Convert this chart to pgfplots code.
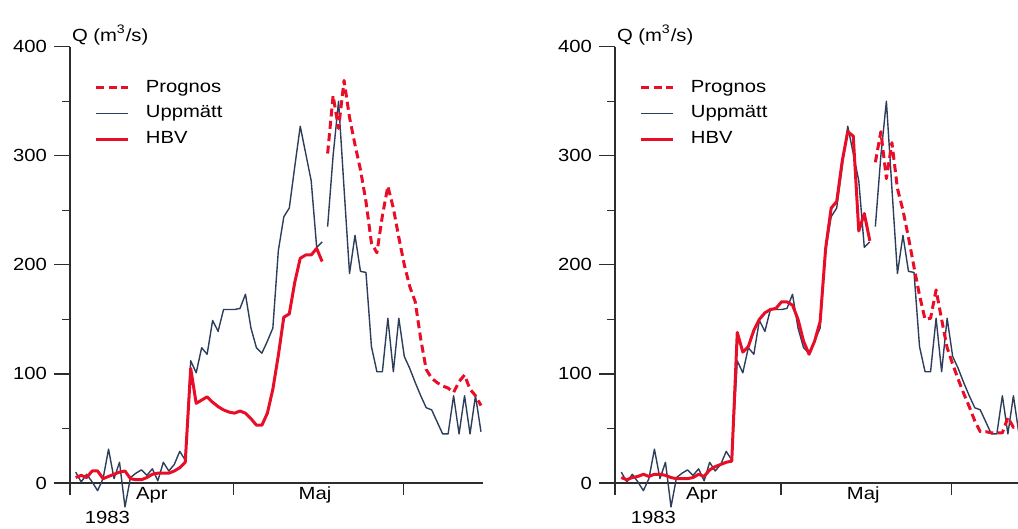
\documentclass[border=0pt]{standalone}
\usepackage{pgfplots}
\usepackage{pgfplotstable}
\pgfplotsset{compat=1.18}
\usepackage{fontspec}
\setmainfont{Liberation Sans}[FakeStretch=1.15]
\newcommand\fs{\fontsize{8.8pt}{10pt}\selectfont}
\DeclareRobustCommand\uppm{Uppm\symbol{"E4}tt}
\definecolor{obs}{RGB}{45,62,92}
\definecolor{hbv}{RGB}{232,14,40}
\definecolor{axc}{RGB}{45,45,45}

% Uppmatt (measured), day index j, before the gap
\pgfplotstableread{
j q
0 10
1 1
2 8
3 1
4 -7
5 4
6 31
7 4
8 19
9 -22
10 5
11 9
12 12
13 7
14 13
15 2
16 19
17 11
18 17
19 29
20 21
21 112
22 101
23 124
24 118
25 149
26 139
27 159
28 159
29 159
30 160
31 173
32 142
33 124
34 119
35 130
36 142
37 213
38 244
39 252
40 290
41 327
42 302
43 277
44 216
45 221
}\obsA
% Uppmatt after the gap
\pgfplotstableread{
j q
46 235
47 300
48 350
49 270
50 192
51 227
52 194
53 193
54 125
55 102
56 102
57 151
58 102
59 151
60 116
61 105
62 92
63 80
64 69
65 67
66 56
67 45
68 45
69 80
70 45
71 80
72 45
73 80
74 47
}\obsB
% HBV, left panel
\pgfplotstableread{
j q
0 5
1 7
2 5
3 11
4 11
5 4
6 6
7 8
8 10
9 11
10 4
11 3
12 3
13 5
14 8
15 9
16 9
17 9
18 11
19 14
20 19
21 105
22 73
23 76
24 79
25 74
26 70
27 67
28 65
29 64
30 66
31 64
32 59
33 53
34 53
35 64
36 86
37 117
38 152
39 155
40 184
41 206
42 209
43 209
44 215
45 203
}\hbvA
% Prognos, left panel
\pgfplotstableread{
j q
46 302
47 355
48 325
49 369
50 335
51 310
52 287
53 258
54 220
55 211
56 245
57 272
58 252
59 225
60 200
61 180
62 166
63 132
64 104
65 96
66 92
67 89
68 87
69 83
70 93
71 99
72 86
73 80
74 71
}\progA
% HBV, right panel
\pgfplotstableread{
j q
0 5
1 3
2 5
3 6
4 8
5 6
6 8
7 8
8 7
9 5
10 4
11 4
12 4
13 5
14 8
15 6
16 12
17 15
18 17
19 19
20 20
21 138
22 120
23 125
24 140
25 150
26 156
27 159
28 160
29 166
30 166
31 163
32 150
33 130
34 118
35 130
36 148
37 215
38 252
39 258
40 295
41 322
42 318
43 231
44 247
45 222
}\hbvB
% Prognos, right panel
\pgfplotstableread{
j q
46 294
47 322
48 279
49 312
50 270
51 250
52 225
53 198
54 172
55 150
56 151
57 177
58 150
59 124
60 109
61 95
62 82
63 70
64 57
65 47
66 47
67 46
68 46
69 46
70 60
71 51
72 54
}\progB

\pgfplotsset{
  panel/.style={
    scale only axis,
    height=218.2pt,
    anchor=south west,
    axis x line*=bottom,
    axis y line*=left,
    axis line style={axc, line width=0.65pt, -},
    ymin=0, ymax=400,
    ytick={0,100,200,300,400},
    minor ytick={50,150,250,350},
    xtick=\empty,
    tick align=outside,
    major tick length=8pt,
    minor tick length=4pt,
    every tick/.style={axc, line width=0.65pt},
    yticklabel style={font=\fs},
    /pgf/number format/assume math mode=true,
    clip=false,
    legend cell align=left,
    legend style={draw=none, fill=none, inner sep=0pt, outer sep=0pt,
      anchor=north west,
      row sep=4.6pt, column sep=8pt,
      nodes={inner sep=0pt, font=\fs, text height=6.4pt, text depth=1.9pt}},
    legend image code/.code={\draw[##1] (0pt,0pt) -- (16pt,0pt);},
  },
  obsline/.style={obs, line width=0.7pt, line join=round},
  hbvline/.style={hbv, line width=1.5pt, line join=round},
  progline/.style={hbv, line width=1.5pt, line join=round, dash pattern=on 4pt off 2.2pt},
}

\begin{document}
\begin{tikzpicture}
\path[use as bounding box] (0,0) rectangle (509pt,264.5pt);

% ---------- left panel ----------
\begin{axis}[panel, at={(35pt,23pt)}, width=206.5pt, xmin=-1.04, xmax=74.37,
  legend style={at={(0.0605,0.925)}}]
\addlegendimage{progline}\addlegendentry{Prognos}
\addlegendimage{obsline}\addlegendentry{\uppm}
\addlegendimage{hbvline}\addlegendentry{HBV}
\addplot[obsline, forget plot] table[x=j,y=q] {\obsA};
\addplot[obsline, forget plot] table[x=j,y=q] {\obsB};
\addplot[hbvline, forget plot] table[x=j,y=q] {\hbvA};
\addplot[progline, forget plot] table[x=j,y=q] {\progA};
\draw[axc, line width=0.65pt] (axis cs:-1.04,0) -- ++(0pt,-6pt);
\draw[axc, line width=0.65pt] (axis cs:28.77,0) -- ++(0pt,-6pt);
\draw[axc, line width=0.65pt] (axis cs:59.81,0) -- ++(0pt,-6pt);
\node[font=\fs, anchor=base west, inner sep=0pt, yshift=2.5pt, xshift=0.8pt] at (rel axis cs:0,1) {Q (m\textsuperscript{3}/s)};
\node[font=\fs, anchor=base, inner sep=0pt, yshift=-8.5pt] at (axis cs:13.9,0) {Apr};
\node[font=\fs, anchor=base, inner sep=0pt, yshift=-8.5pt] at (axis cs:43.7,0) {Maj};
\node[font=\fs, anchor=base, inner sep=0pt, yshift=-20.5pt] at (axis cs:5.8,0) {1983};
\end{axis}

% ---------- right panel ----------
\begin{axis}[panel, at={(307.5pt,23pt)}, width=201.5pt, xmin=-1.14, xmax=71.83,
  legend style={at={(0.062,0.925)}}]
\addlegendimage{progline}\addlegendentry{Prognos}
\addlegendimage{obsline}\addlegendentry{\uppm}
\addlegendimage{hbvline}\addlegendentry{HBV}
\addplot[obsline, forget plot] table[x=j,y=q] {\obsA};
\addplot[obsline, forget plot] table[x=j,y=q] {\obsB};
\addplot[hbvline, forget plot] table[x=j,y=q] {\hbvB};
\addplot[progline, forget plot] table[x=j,y=q] {\progB};
\draw[axc, line width=0.65pt] (axis cs:-1.14,0) -- ++(0pt,-6pt);
\draw[axc, line width=0.65pt] (axis cs:28.9,0) -- ++(0pt,-6pt);
\draw[axc, line width=0.65pt] (axis cs:59.8,0) -- ++(0pt,-6pt);
\node[font=\fs, anchor=base west, inner sep=0pt, yshift=2.5pt, xshift=0.8pt] at (rel axis cs:0,1) {Q (m\textsuperscript{3}/s)};
\node[font=\fs, anchor=base, inner sep=0pt, yshift=-8.5pt] at (axis cs:14.6,0) {Apr};
\node[font=\fs, anchor=base, inner sep=0pt, yshift=-8.5pt] at (axis cs:43.8,0) {Maj};
\node[font=\fs, anchor=base, inner sep=0pt, yshift=-20.5pt] at (axis cs:5.8,0) {1983};
\end{axis}
\end{tikzpicture}
\end{document}
